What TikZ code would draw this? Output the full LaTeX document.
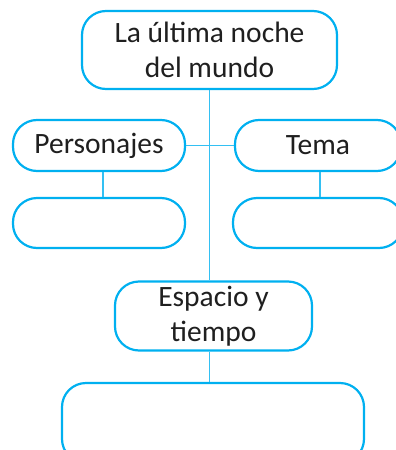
\documentclass[tikz,border=0pt]{standalone}
\usepackage{fontspec}
\setmainfont{Carlito}
\usetikzlibrary{positioning,calc}
\definecolor{mapblue}{RGB}{0,176,240}

\begin{document}
\begin{tikzpicture}[x=1pt,y=-1pt,
  box/.style={draw=mapblue, line width=2.2pt, rounded corners=24pt,
    align=center, inner sep=0pt, text=black!88,
    font=\fontsize{29.5}{35}\selectfont},
  link/.style={draw=mapblue!80, line width=1.3pt}]
  \useasboundingbox (0,0) rectangle (396,450);

  \node[box, minimum width=255, minimum height=78] (title) at (209.5,50) {La última noche\\del mundo};
  \node[box, minimum width=172, minimum height=51] (pers) at (99,145.5) {Personajes};
  \node[box, minimum width=166, minimum height=51] (tema) at (318,145.5) {Tema};
  \node[box, minimum width=172, minimum height=50] (persempty) at (99,223) {};
  \node[box, minimum width=170, minimum height=50] (temaempty) at (318,223) {};
  \node[box, minimum width=197, minimum height=69] (espacio) at (213.5,316) {Espacio y\\tiempo};
  \node[box, minimum width=302, minimum height=80] (final) at (213,423) {};

  \draw[link] (title.south) -- (title.south |- espacio.north);
  \draw[link] (pers.east) -- (tema.west);
  \draw[link] ([xshift=4pt]pers.south) -- ([xshift=4pt]persempty.north);
  \draw[link] ([xshift=2pt]tema.south) -- ([xshift=2pt]temaempty.north);
  \draw[link] (espacio.south -| title.south) -- (final.north -| title.south);
\end{tikzpicture}
\end{document}
